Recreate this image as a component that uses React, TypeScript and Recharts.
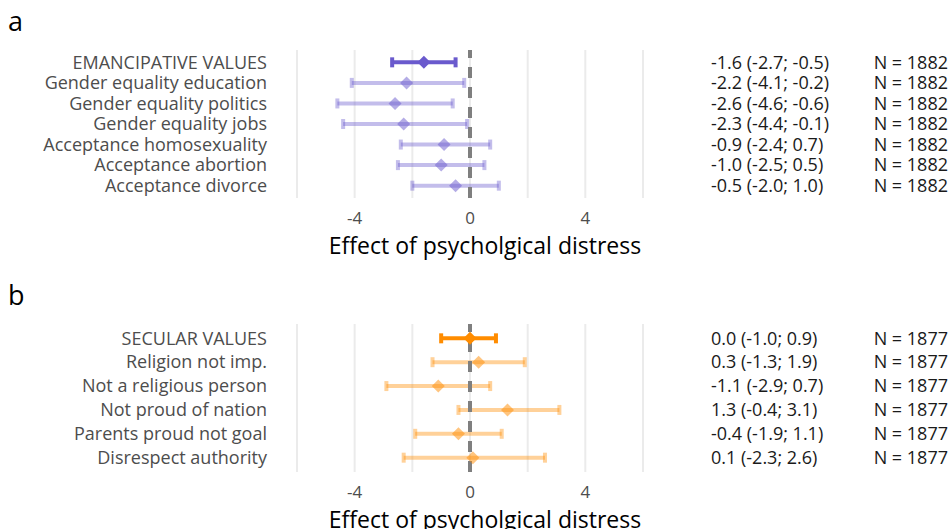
import { ComposedChart, Scatter, ErrorBar, XAxis, YAxis, CartesianGrid, ReferenceLine, Label } from 'recharts'

const emancipLabels = [
  'EMANCIPATIVE VALUES',
  'Gender equality education',
  'Gender equality politics',
  'Gender equality jobs',
  'Acceptance homosexuality',
  'Acceptance abortion',
  'Acceptance divorce',
]
const emancipEst = [-1.6, -2.2, -2.6, -2.3, -0.9, -1.0, -0.5]
const emancipLo = [-2.7, -4.1, -4.6, -4.4, -2.4, -2.5, -2.0]
const emancipHi = [-0.5, -0.2, -0.6, -0.1, 0.7, 0.5, 1.0]
const emancipN = 1882

const secularLabels = [
  'SECULAR VALUES',
  'Religion not imp.',
  'Not a religious person',
  'Not proud of nation',
  'Parents proud not goal',
  'Disrespect authority',
]
const secularEst = [0.0, 0.3, -1.1, 1.3, -0.4, 0.1]
const secularLo = [-1.0, -1.3, -2.9, -0.4, -1.9, -2.3]
const secularHi = [0.9, 1.9, 0.7, 3.1, 1.1, 2.6]
const secularN = 1877

const xTicks = [-6, -4, -2, 0, 2, 4, 6]

const FONT = '"Open Sans", "Noto Sans", sans-serif'

type Row = { pos: number; est: number; lo: number; hi: number; err: [number, number]; label: string }

function buildRows(labels: string[], est: number[], lo: number[], hi: number[]): Row[] {
  return labels.map((label, i) => ({
    pos: i + 1,
    est: est[i],
    lo: lo[i],
    hi: hi[i],
    err: [est[i] - lo[i], hi[i] - est[i]],
    label,
  }))
}

const fmt = (v: number) => v.toFixed(1)

function Diamond(props: any) {
  const { cx, cy, fill, fillOpacity } = props
  const r = 6.5
  return (
    <polygon
      points={`${cx},${cy - r} ${cx + r},${cy} ${cx},${cy + r} ${cx - r},${cy}`}
      fill={fill}
      fillOpacity={fillOpacity}
    />
  )
}

function ForestPanel({ rows, n, color }: { rows: Row[]; n: number; color: string }) {
  const count = rows.length
  const yTicks = rows.map(r => r.pos)
  const summary = rows.slice(0, 1)
  const items = rows.slice(1)

  const LeftTick = (p: any) => {
    const row = rows[p.payload.value - 1]
    return (
      <text x={p.x} y={p.y} dy="0.35em" textAnchor="end" fill="#4d4d4d" fontSize={18} fontFamily={FONT}>
        {row ? row.label : ''}
      </text>
    )
  }

  const RightTick = (p: any) => {
    const row = rows[p.payload.value - 1]
    if (!row) return null
    return (
      <g>
        <text x={p.x + 68} y={p.y} dy="0.35em" textAnchor="start" fill="#1a1a1a" fontSize={18} fontFamily={FONT}>
          {`${fmt(row.est)} (${fmt(row.lo)}; ${fmt(row.hi)})`}
        </text>
        <text x={p.x + 305} y={p.y} dy="0.35em" textAnchor="end" fill="#1a1a1a" fontSize={18} fontFamily={FONT}>
          {`N = ${n}`}
        </text>
      </g>
    )
  }

  const XTick = (p: any) => {
    const v = p.payload.value
    if (v % 4 !== 0) return null
    return (
      <text x={p.x} y={p.y} dy="0.71em" textAnchor="middle" fill="#4d4d4d" fontSize={17} fontFamily={FONT}>
        {String(v)}
      </text>
    )
  }

  return (
    <ComposedChart width={951} height={264} margin={{ top: 50, right: 0, bottom: 0, left: 0 }}>
      <CartesianGrid horizontal={false} stroke="#ebebeb" strokeWidth={2} />
      <XAxis
        type="number"
        dataKey="est"
        domain={[-6, 6]}
        ticks={xTicks}
        axisLine={false}
        tickLine={false}
        tickSize={0}
        tickMargin={14}
        height={66}
        tick={XTick}
        interval={0}
      >
        <Label value="Effect of psycholgical distress" position="insideBottom" offset={10} dx={15} fill="#000" fontSize={23} fontFamily={FONT} />
      </XAxis>
      <YAxis
        yAxisId="l"
        type="number"
        dataKey="pos"
        domain={[0.4, count + 0.6]}
        ticks={yTicks}
        reversed
        width={297}
        axisLine={false}
        tickLine={false}
        tickSize={0}
        tickMargin={30}
        tick={LeftTick}
        interval={0}
      />
      <YAxis
        yAxisId="r"
        orientation="right"
        type="number"
        dataKey="pos"
        domain={[0.4, count + 0.6]}
        ticks={yTicks}
        reversed
        width={308}
        axisLine={false}
        tickLine={false}
        tickSize={0}
        tickMargin={0}
        tick={RightTick}
        interval={0}
      />
      <Scatter yAxisId="l" data={items} fill={color} fillOpacity={0.5} shape={Diamond} isAnimationActive={false}>
        <ErrorBar dataKey="err" direction="x" width={5} strokeWidth={4} stroke={color} strokeOpacity={0.4} />
      </Scatter>
      <Scatter yAxisId="r" data={summary} fill={color} fillOpacity={1} shape={Diamond} isAnimationActive={false}>
        <ErrorBar dataKey="err" direction="x" width={5} strokeWidth={4} stroke={color} />
      </Scatter>
      <ReferenceLine
        yAxisId="l"
        segment={[{ x: 0, y: count + 0.6 }, { x: 0, y: 0.4 }]}
        stroke="#7f7f7f"
        strokeWidth={4}
        strokeDasharray="11 9"
      />
    </ComposedChart>
  )
}

export default function App() {
  const emancipRows = buildRows(emancipLabels, emancipEst, emancipLo, emancipHi)
  const secularRows = buildRows(secularLabels, secularEst, secularLo, secularHi)
  return (
    <div style={{ position: 'absolute', left: 0, top: 0, width: 951, height: 529, overflow: 'hidden', background: '#fff', fontFamily: FONT }}>
      <div style={{ position: 'absolute', left: 8, top: 2, fontSize: 27, color: '#000' }}>a</div>
      <div style={{ position: 'absolute', left: 8, top: 276, fontSize: 27, color: '#000' }}>b</div>
      <div style={{ position: 'absolute', left: 0, top: 0 }}>
        <ForestPanel rows={emancipRows} n={emancipN} color="#6a5acd" />
      </div>
      <div style={{ position: 'absolute', left: 0, top: 274 }}>
        <ForestPanel rows={secularRows} n={secularN} color="#ff8c00" />
      </div>
    </div>
  )
}
